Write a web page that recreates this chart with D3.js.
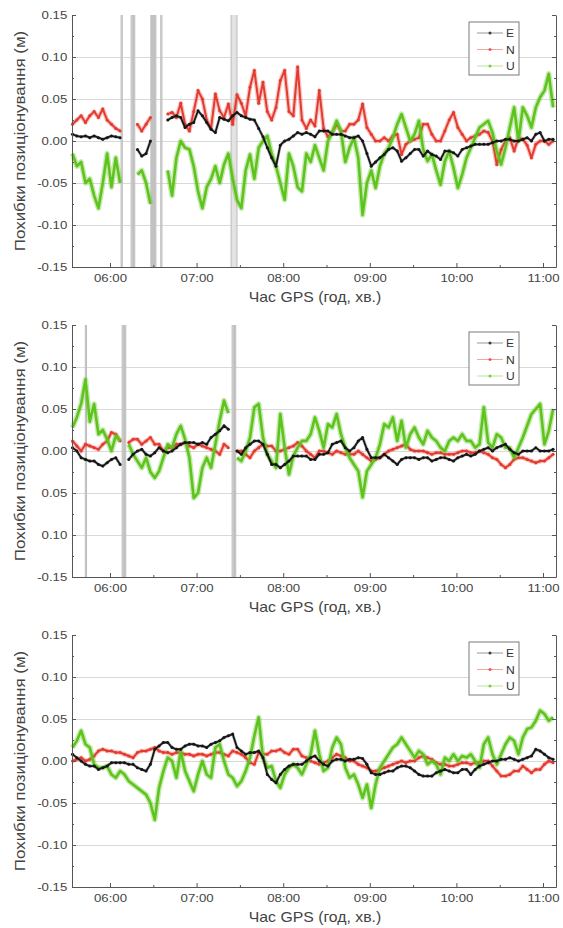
<!DOCTYPE html>
<html><head><meta charset="utf-8">
<script src="https://cdn.jsdelivr.net/npm/d3@7"></script>
<style>
html,body{margin:0;padding:0;background:#fff;}
svg{display:block;}
</style></head>
<body>
<svg id="chart" width="563" height="928"></svg>
<script>
// One sample every 3 minutes, starting at 05:34 GPS time
const sampleStart = "05:34";
const sampleStepMinutes = 3;

const xTickHours = [6, 7, 8, 9, 10, 11];
const xTickLabels = ["06:00", "07:00", "08:00", "09:00", "10:00", "11:00"];
const xMinorHours = [6.5, 7.5, 8.5, 9.5, 10.5];
const yTicks = [0.15, 0.10, 0.05, 0.00, -0.05, -0.10, -0.15];
const yLabelsSigned = ["0.15", "0.10", "0.05", "0.00", "-0.05", "-0.10", "-0.15"];
const yLabelsPanel2 = ["0.15", "0.10", "0.05", "0.00", "0.05", "0.10", "-0.15"];
const yMinor = [0.125, 0.075, 0.025, -0.025, -0.075, -0.125];
const yGrid = [0.10, 0.05, 0.00, -0.05, -0.10];

const seriesNames = ["E", "N", "U"];
const xTitle = "Час GPS (год, хв.)";
const yTitle = "Похибки позиціонування (м)";

// ---- panel 1 (m) ----
const p1E = [0.008,0.006,0.005,0.006,0.004,0.006,0.004,0.002,0.004,0.006,0.005,0.004,
  null,null,null,
  -0.01,-0.018,-0.015,0.0,
  null,null,null,
  0.025,0.028,0.03,0.028,0.016,0.02,0.022,0.036,0.03,0.022,0.014,0.01,0.028,0.026,0.024,0.03,0.034,0.03,0.028,0.026,0.025,0.015,0.005,-0.008,-0.02,-0.03,-0.005,0.0,0.002,0.006,0.01,0.008,0.01,0.008,0.005,
  0.012,0.012,0.012,0.008,0.008,0.008,0.006,0.004,0.004,0.006,0.0,-0.015,-0.03,-0.025,-0.02,-0.016,-0.01,-0.008,-0.012,-0.024,-0.02,-0.015,-0.01,-0.01,-0.018,-0.012,-0.016,-0.018,-0.022,-0.012,-0.012,-0.014,-0.018,-0.01,-0.008,-0.006,-0.004,-0.004,-0.004,-0.004,-0.002,0.0,0.0,0.002,0.002,0.0,0.0,0.002,0.004,0.0,0.008,0.01,0.0,0.002,0.002];
const p1N = [0.02,0.025,0.03,0.022,0.03,0.035,0.028,0.038,0.025,0.02,0.015,0.012,
  null,null,null,
  0.02,0.012,0.02,0.028,
  null,null,null,
  0.032,0.034,0.028,0.045,0.02,0.012,0.035,0.06,0.05,0.025,0.015,0.056,0.036,0.028,0.044,0.02,0.055,0.045,0.03,0.064,0.084,0.045,0.07,0.035,0.025,0.04,0.072,0.084,0.035,0.03,0.088,0.025,0.015,0.025,0.018,
  0.06,0.015,0.005,0.01,0.02,0.012,0.012,0.02,0.02,0.025,0.044,0.016,0.008,0.0,0.0,0.004,0.0,0.006,0.008,-0.016,-0.004,0.0,0.002,0.004,0.02,0.02,0.008,0.0,0.0,0.012,0.025,0.034,0.016,0.008,0.0,0.004,0.006,0.008,0.012,0.01,0.0,-0.028,-0.01,0.0,0.004,-0.012,0.004,0.002,-0.005,-0.02,-0.004,0.0,0.0,-0.004,0.0];
const p1U = [-0.015,-0.03,-0.025,-0.05,-0.045,-0.065,-0.08,-0.05,-0.015,-0.055,-0.02,-0.05,
  null,null,null,
  -0.04,-0.035,-0.05,-0.075,
  null,null,null,
  -0.035,-0.065,-0.02,0.0,-0.008,-0.01,-0.03,-0.06,-0.08,-0.055,-0.045,-0.03,-0.05,-0.028,-0.015,-0.045,-0.07,-0.08,-0.035,-0.016,-0.045,-0.008,0.0,0.006,-0.015,-0.03,-0.05,-0.07,-0.015,-0.03,-0.055,-0.06,-0.015,-0.025,-0.005,
  -0.02,-0.035,0.0,0.01,0.024,0.012,-0.025,-0.008,0.004,-0.02,-0.088,-0.05,-0.035,-0.056,-0.03,-0.015,-0.008,0.004,0.02,0.032,0.016,0.0,0.008,0.024,-0.01,-0.024,-0.016,-0.035,-0.052,-0.024,-0.012,-0.032,-0.056,-0.04,-0.02,-0.008,0.004,0.016,0.02,0.024,0.01,-0.012,-0.028,-0.008,0.016,0.04,0.0,0.04,0.03,0.016,0.04,0.052,0.06,0.08,0.04];
// outage marks: [start hour, end hour]
const p1Outages = [[6.128,6.134],[6.244,6.25],[6.272,6.278],[6.472,6.478],[6.484,6.49],[6.496,6.502],[6.508,6.514],[6.516,6.522],[6.586,6.594],[7.398,7.466]];

// ---- panel 2 (m) ----
const p2E = [0.004,0.0,-0.008,-0.01,-0.012,-0.012,-0.016,-0.018,-0.014,-0.01,-0.008,-0.016,
  null,
  -0.01,-0.004,0.0,0.002,-0.004,-0.006,-0.002,0.004,0.0,-0.002,0.0,0.004,0.008,0.01,0.01,0.01,0.008,0.01,0.008,0.016,0.02,0.024,0.03,0.026,
  null,
  0.0,-0.004,0.004,0.008,0.012,0.012,0.008,-0.004,-0.016,-0.016,-0.02,-0.016,-0.012,-0.006,-0.006,-0.006,-0.006,-0.01,-0.01,
  -0.004,-0.004,-0.002,0.008,0.01,0.012,0.004,0.0,0.004,0.012,0.016,0.002,-0.008,-0.008,-0.008,-0.004,-0.008,-0.012,-0.016,-0.01,-0.008,-0.008,-0.008,-0.01,-0.008,-0.008,-0.012,-0.01,-0.008,-0.008,-0.01,-0.012,-0.008,-0.006,-0.004,-0.006,-0.004,0.0,0.002,0.004,0.0,0.004,0.006,0.008,0.002,-0.002,-0.004,0.0,0.0,0.0,0.004,0.0,0.0,0.0,0.002];
const p2N = [0.012,0.006,0.0,0.008,0.006,0.004,0.002,0.008,0.012,0.022,0.02,0.012,
  null,
  0.01,0.014,0.014,0.008,0.012,0.016,0.008,0.008,0.0,0.004,0.004,0.008,0.008,0.01,0.006,0.004,0.008,0.006,0.004,0.002,0.0,-0.004,0.008,0.004,
  null,
  0.0,0.0,-0.004,-0.008,0.0,0.004,0.008,0.006,0.006,0.0,0.0,0.002,0.004,0.006,0.01,0.006,0.0,-0.004,-0.008,
  0.0,0.0,-0.002,-0.004,0.0,-0.002,-0.004,-0.004,-0.004,0.0,-0.004,-0.008,-0.012,-0.01,-0.008,-0.004,0.0,0.002,0.004,0.006,0.008,0.002,0.0,0.0,0.0,-0.002,-0.004,-0.002,-0.002,-0.004,-0.004,-0.004,-0.002,0.0,0.0,-0.002,-0.002,0.0,-0.002,-0.004,-0.008,-0.01,-0.016,-0.02,-0.016,-0.01,-0.008,-0.008,-0.01,-0.012,-0.014,-0.012,-0.012,-0.008,-0.004];
const p2U = [0.028,0.04,0.056,0.085,0.035,0.056,0.02,0.025,0.014,0.0,0.018,0.012,
  null,
  0.008,-0.004,-0.012,-0.02,-0.008,-0.025,-0.032,-0.024,-0.008,0.008,0.004,0.02,0.03,0.014,-0.008,-0.056,-0.05,-0.02,-0.008,-0.02,0.008,0.036,0.06,0.045,
  null,
  -0.008,-0.012,0.0,0.016,0.052,0.056,0.016,-0.004,-0.012,-0.02,0.044,0.004,-0.028,-0.006,0.004,0.012,0.012,0.02,0.04,
  0.024,0.004,0.032,0.028,0.044,0.02,0.004,-0.008,-0.016,-0.024,-0.055,-0.024,-0.016,-0.008,0.008,0.032,0.028,0.04,0.012,0.036,0.004,0.02,0.028,0.016,0.008,0.024,0.016,0.012,0.004,0.0,0.012,0.016,0.012,0.02,0.012,0.012,0.004,0.008,0.052,0.01,0.004,0.02,0.016,0.004,0.004,-0.008,0.004,0.016,0.03,0.044,0.05,0.056,0.008,0.024,0.05];
const p2Outages = [[5.715,5.72],[6.14,6.146],[6.168,6.175],[7.41,7.416],[7.438,7.445]];

// ---- panel 3 (m) ----
const p3E = [0.008,0.004,0.0,-0.004,-0.006,-0.006,-0.01,-0.008,-0.006,-0.002,-0.002,-0.002,-0.002,-0.004,-0.004,-0.008,-0.01,-0.012,-0.004,0.014,0.018,0.022,0.022,0.016,0.014,0.014,0.018,0.02,0.02,0.018,0.018,0.016,0.02,0.022,0.024,0.028,0.03,0.032,0.016,0.012,0.008,0.01,0.01,0.012,0.004,-0.016,-0.022,-0.026,-0.016,-0.01,-0.006,-0.004,-0.004,-0.004,0.0,0.004,0.006,
  0.0,-0.004,-0.006,0.0,0.002,0.002,0.0,0.002,0.002,0.004,0.003,-0.004,-0.014,-0.016,-0.016,-0.014,-0.012,-0.012,-0.008,-0.006,-0.006,-0.008,-0.012,-0.016,-0.018,-0.018,-0.018,-0.014,-0.012,-0.01,-0.012,-0.014,-0.014,-0.01,-0.01,-0.016,-0.01,-0.006,-0.004,-0.002,0.0,0.0,0.002,0.002,0.004,0.002,0.0,0.002,0.004,0.006,0.014,0.012,0.008,0.004,0.002];
const p3N = [0.0,0.002,0.004,0.0,0.002,0.006,0.012,0.014,0.012,0.012,0.01,0.01,0.008,0.006,0.004,0.01,0.012,0.012,0.014,0.016,0.012,0.01,0.01,0.008,0.01,0.01,0.008,0.008,0.006,0.008,0.008,0.006,0.008,0.01,0.01,0.008,0.006,0.012,0.01,0.008,0.004,-0.002,-0.004,0.01,0.008,0.008,0.012,0.012,0.014,0.01,0.008,0.014,0.014,0.006,0.004,0.0,-0.002,
  -0.004,-0.002,0.0,0.004,0.008,0.006,0.004,0.0,0.0,-0.004,-0.006,-0.008,-0.012,-0.012,-0.01,-0.008,-0.006,-0.004,-0.002,0.0,-0.002,0.0,0.0,0.004,0.006,0.004,0.002,-0.002,-0.004,-0.004,-0.006,-0.006,-0.004,-0.002,-0.002,-0.004,-0.002,-0.002,0.0,0.0,-0.006,-0.012,-0.018,-0.018,-0.016,-0.012,-0.012,-0.006,-0.01,-0.014,-0.01,-0.01,-0.004,0.0,-0.002];
const p3U = [0.016,0.024,0.036,0.02,0.016,-0.004,-0.008,-0.008,-0.006,-0.016,-0.02,-0.012,-0.016,-0.024,-0.028,-0.032,-0.036,-0.04,-0.05,-0.07,-0.032,-0.012,0.004,0.0,-0.02,0.012,-0.012,-0.024,-0.036,-0.016,0.0,-0.016,-0.02,0.016,0.02,0.0,-0.016,-0.02,-0.03,-0.024,-0.012,0.004,0.03,0.052,0.004,-0.008,-0.006,-0.024,-0.032,-0.016,-0.008,-0.004,-0.008,-0.016,-0.004,0.008,0.036,
  0.008,-0.012,-0.008,0.016,0.028,0.02,-0.008,-0.02,-0.016,-0.028,-0.044,-0.028,-0.056,-0.028,-0.008,0.0,0.008,0.016,0.02,0.028,0.02,0.012,0.004,0.012,0.008,-0.004,0.0,-0.004,-0.016,0.004,0.0,0.008,0.0,0.006,0.004,0.008,0.0,-0.008,0.02,0.028,0.008,-0.004,0.008,0.02,0.028,0.024,0.008,0.028,0.038,0.04,0.048,0.06,0.056,0.048,0.052];
const p3Outages = [];

// ---------------------------------------------------------------
const colors = {E: "#161616", N: "#e43a2f", U: "#5ec41d"};
const FONT = "'Liberation Sans', Arial, Helvetica, sans-serif";

const panels = [
  {E: p1E, N: p1N, U: p1U, outages: p1Outages, yLabels: yLabelsSigned},
  {E: p2E, N: p2N, U: p2U, outages: p2Outages, yLabels: yLabelsPanel2},
  {E: p3E, N: p3N, U: p3U, outages: p3Outages, yLabels: yLabelsSigned}
];

const svg = d3.select("#chart");
const plotLeft = 72, plotRight = 556, plotH = 252;
const panelTops = [15, 325, 635];

const [sh, sm] = sampleStart.split(":").map(Number);
const startHour = sh + sm / 60;
const hourOf = i => startHour + i * sampleStepMinutes / 60;

const x = d3.scaleLinear().domain([5.5612, 11.150]).range([plotLeft, plotRight]);

// stroke styling per component: soft halo under a solid core
const lineStyle = {
  E: {halo: 3.2, haloOpacity: 0.25, core: 1.8, dot: 1.5},
  N: {halo: 4.5, haloOpacity: 0.3, core: 2.0, dot: 1.5},
  U: {halo: 5.5, haloOpacity: 0.35, core: 2.6, dot: 0}
};

panels.forEach((p, pi) => {
  const top = panelTops[pi];
  const y = d3.scaleLinear().domain([-0.15, 0.15]).range([top + plotH, top]);
  const g = svg.append("g");

  // horizontal grid
  g.append("g")
    .attr("transform", `translate(${plotLeft},0)`)
    .call(d3.axisLeft(y).tickValues(yGrid).tickSize(-(plotRight - plotLeft)).tickFormat(""))
    .call(a => a.select(".domain").remove())
    .call(a => a.selectAll("line").attr("stroke", "#d9d9d9").attr("stroke-width", 1));

  // outage marks
  const og = g.append("g");
  p.outages.forEach(([a, b]) => {
    const x0 = x(a), x1 = Math.max(x(b), x0 + 1.2);
    og.append("rect").attr("x", x0).attr("y", top).attr("width", x1 - x0).attr("height", plotH)
      .attr("fill", "#e3e3e3");
    og.append("line").attr("x1", x0).attr("x2", x0).attr("y1", top).attr("y2", top + plotH)
      .attr("stroke", "#bcbcbc").attr("stroke-width", 1);
    og.append("line").attr("x1", x1).attr("x2", x1).attr("y1", top).attr("y2", top + plotH)
      .attr("stroke", "#bcbcbc").attr("stroke-width", 1);
  });

  // data series
  const line = d3.line()
    .defined(d => d.v !== null)
    .x(d => x(d.t))
    .y(d => y(d.v));

  const drawOrder = ["N", "U", "E"];
  drawOrder.forEach(k => {
    const st = lineStyle[k];
    const pts = p[k].map((v, i) => ({t: hourOf(i), v}));
    g.append("path").datum(pts)
      .attr("d", line)
      .attr("fill", "none")
      .attr("stroke", colors[k])
      .attr("stroke-opacity", st.haloOpacity)
      .attr("stroke-width", st.halo)
      .attr("stroke-linejoin", "round");
    g.append("path").datum(pts)
      .attr("d", line)
      .attr("fill", "none")
      .attr("stroke", colors[k])
      .attr("stroke-width", st.core)
      .attr("stroke-linejoin", "round");
    if (st.dot > 0) {
      g.append("g").selectAll("circle")
        .data(pts.filter(d => d.v !== null))
        .join("circle")
        .attr("cx", d => x(d.t)).attr("cy", d => y(d.v))
        .attr("r", st.dot).attr("fill", colors[k]);
    }
  });

  const styleAxis = a => {
    a.select(".domain").attr("stroke", "#555").attr("stroke-width", 1);
    a.selectAll(".tick line").attr("stroke", "#555");
  };

  // left axis with labels
  g.append("g")
    .attr("transform", `translate(${plotLeft},0)`)
    .call(d3.axisLeft(y).tickValues(yTicks).tickSize(-4).tickSizeOuter(0).tickPadding(4)
      .tickFormat((d, i) => p.yLabels[i]))
    .call(styleAxis)
    .call(a => a.selectAll("text")
      .attr("font-family", FONT).attr("font-size", 11).attr("fill", "#444")
      .attr("transform", "scale(1.2,1)"));
  g.append("g")
    .attr("transform", `translate(${plotLeft},0)`)
    .call(d3.axisLeft(y).tickValues(yMinor).tickSize(-2).tickFormat(""))
    .call(a => a.select(".domain").remove())
    .call(a => a.selectAll("line").attr("stroke", "#555"));

  // right axis
  g.append("g")
    .attr("transform", `translate(${plotRight},0)`)
    .call(d3.axisRight(y).tickValues(yTicks).tickSize(-4).tickSizeOuter(0).tickFormat(""))
    .call(styleAxis);
  g.append("g")
    .attr("transform", `translate(${plotRight},0)`)
    .call(d3.axisRight(y).tickValues(yMinor).tickSize(-2).tickFormat(""))
    .call(a => a.select(".domain").remove())
    .call(a => a.selectAll("line").attr("stroke", "#555"));

  // bottom axis
  g.append("g")
    .attr("transform", `translate(0,${top + plotH})`)
    .call(d3.axisBottom(x).tickValues(xTickHours).tickSize(-4).tickSizeOuter(0).tickPadding(7)
      .tickFormat((d, i) => xTickLabels[i]))
    .call(styleAxis)
    .call(a => a.selectAll("text")
      .attr("font-family", FONT).attr("font-size", 11).attr("fill", "#444")
      .attr("transform", "scale(1.2,1)"));
  g.append("g")
    .attr("transform", `translate(0,${top + plotH})`)
    .call(d3.axisBottom(x).tickValues(xMinorHours).tickSize(-2).tickFormat(""))
    .call(a => a.select(".domain").remove())
    .call(a => a.selectAll("line").attr("stroke", "#555"));

  // axis titles
  g.append("text")
    .attr("transform", `translate(${(plotLeft + plotRight) / 2 + 1},${top + plotH + 35}) scale(1.13,1)`)
    .attr("text-anchor", "middle")
    .attr("font-family", FONT).attr("font-size", 14).attr("fill", "#444")
    .text(xTitle);
  g.append("text")
    .attr("transform", `translate(25,${top + plotH / 2}) rotate(-90) scale(1.21,1)`)
    .attr("text-anchor", "middle")
    .attr("font-family", FONT).attr("font-size", 14).attr("fill", "#444")
    .text(yTitle);

  // legend
  const lg = g.append("g").attr("transform", `translate(469,${top + 7})`);
  lg.append("rect").attr("width", 50).attr("height", 53)
    .attr("fill", "#fff").attr("stroke", "#7a7a7a").attr("stroke-width", 1);
  seriesNames.forEach((k, i) => {
    const ly = 11 + i * 16.5;
    lg.append("line").attr("x1", 8).attr("x2", 34).attr("y1", ly).attr("y2", ly)
      .attr("stroke", colors[k]).attr("stroke-opacity", 0.45).attr("stroke-width", 1);
    lg.append("circle").attr("cx", 21).attr("cy", ly).attr("r", 1.5)
      .attr("fill", colors[k]).attr("fill-opacity", 0.8);
    lg.append("text").attr("transform", `translate(37,${ly + 4}) scale(1.1,1)`)
      .attr("font-family", FONT).attr("font-size", 11).attr("fill", "#333")
      .text(k);
  });
});
</script>
</body></html>
